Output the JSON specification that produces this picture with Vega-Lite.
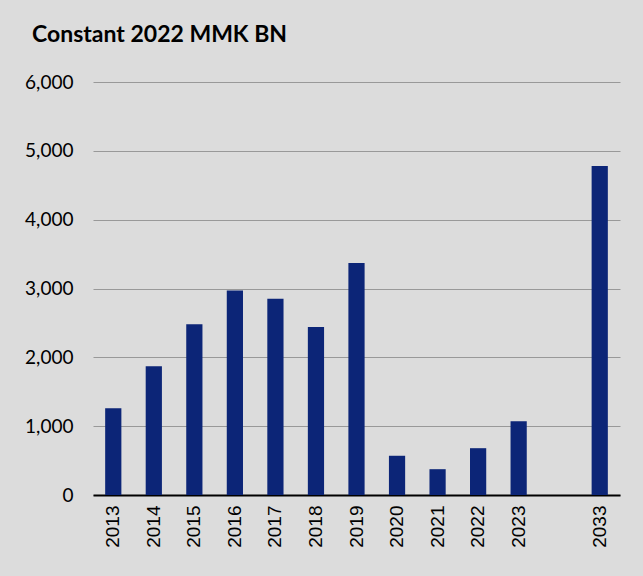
{
  "$schema": "https://vega.github.io/schema/vega-lite/v6.json",
  "autosize": {"type": "none"},
  "width": 527,
  "height": 413,
  "padding": {"left": 93, "top": 82, "right": 23, "bottom": 81},
  "background": "#dcdcdc",
  "title": {
    "text": "Constant 2022 MMK BN",
    "anchor": "start",
    "frame": "group",
    "dx": -61,
    "offset": 26,
    "font": "Lato",
    "fontSize": 23,
    "fontWeight": "bold",
    "color": "#000000"
  },
  "data": {
    "values": [
      {"year": "2013", "value": 1260},
      {"year": "2014", "value": 1870},
      {"year": "2015", "value": 2480},
      {"year": "2016", "value": 2970},
      {"year": "2017", "value": 2850},
      {"year": "2018", "value": 2440},
      {"year": "2019", "value": 3370},
      {"year": "2020", "value": 570},
      {"year": "2021", "value": 375},
      {"year": "2022", "value": 680},
      {"year": "2023", "value": 1070},
      {"year": "gap", "value": null},
      {"year": "2033", "value": 4780}
    ]
  },
  "mark": {"type": "bar", "color": "#0c2577"},
  "encoding": {
    "x": {
      "field": "year",
      "type": "nominal",
      "sort": null,
      "scale": {"domain": ["2013","2014","2015","2016","2017","2018","2019","2020","2021","2022","2023","gap","2033"], "paddingInner": 0.6, "paddingOuter": 0.3},
      "axis": {
        "title": null,
        "labelAngle": -90,
        "labelAlign": "right",
        "labelBaseline": "middle",
        "labelExpr": "datum.value == 'gap' ? '' : datum.value",
        "labelFont": "Liberation Sans",
        "labelFontSize": 19,
        "labelColor": "#000000",
        "labelPadding": 10,
        "ticks": false,
        "domainColor": "#000000",
        "domainWidth": 2,
        "grid": false
      }
    },
    "y": {
      "field": "value",
      "type": "quantitative",
      "scale": {"domain": [0, 6000]},
      "axis": {
        "title": null,
        "values": [0, 1000, 2000, 3000, 4000, 5000, 6000],
        "format": ",.0f",
        "labelFont": "Lato",
        "labelFontSize": 19,
        "labelColor": "#000000",
        "labelPadding": 20,
        "ticks": false,
        "domain": false,
        "gridColor": "#999999",
        "gridWidth": 1
      }
    }
  },
  "config": {"view": {"stroke": null}}
}
